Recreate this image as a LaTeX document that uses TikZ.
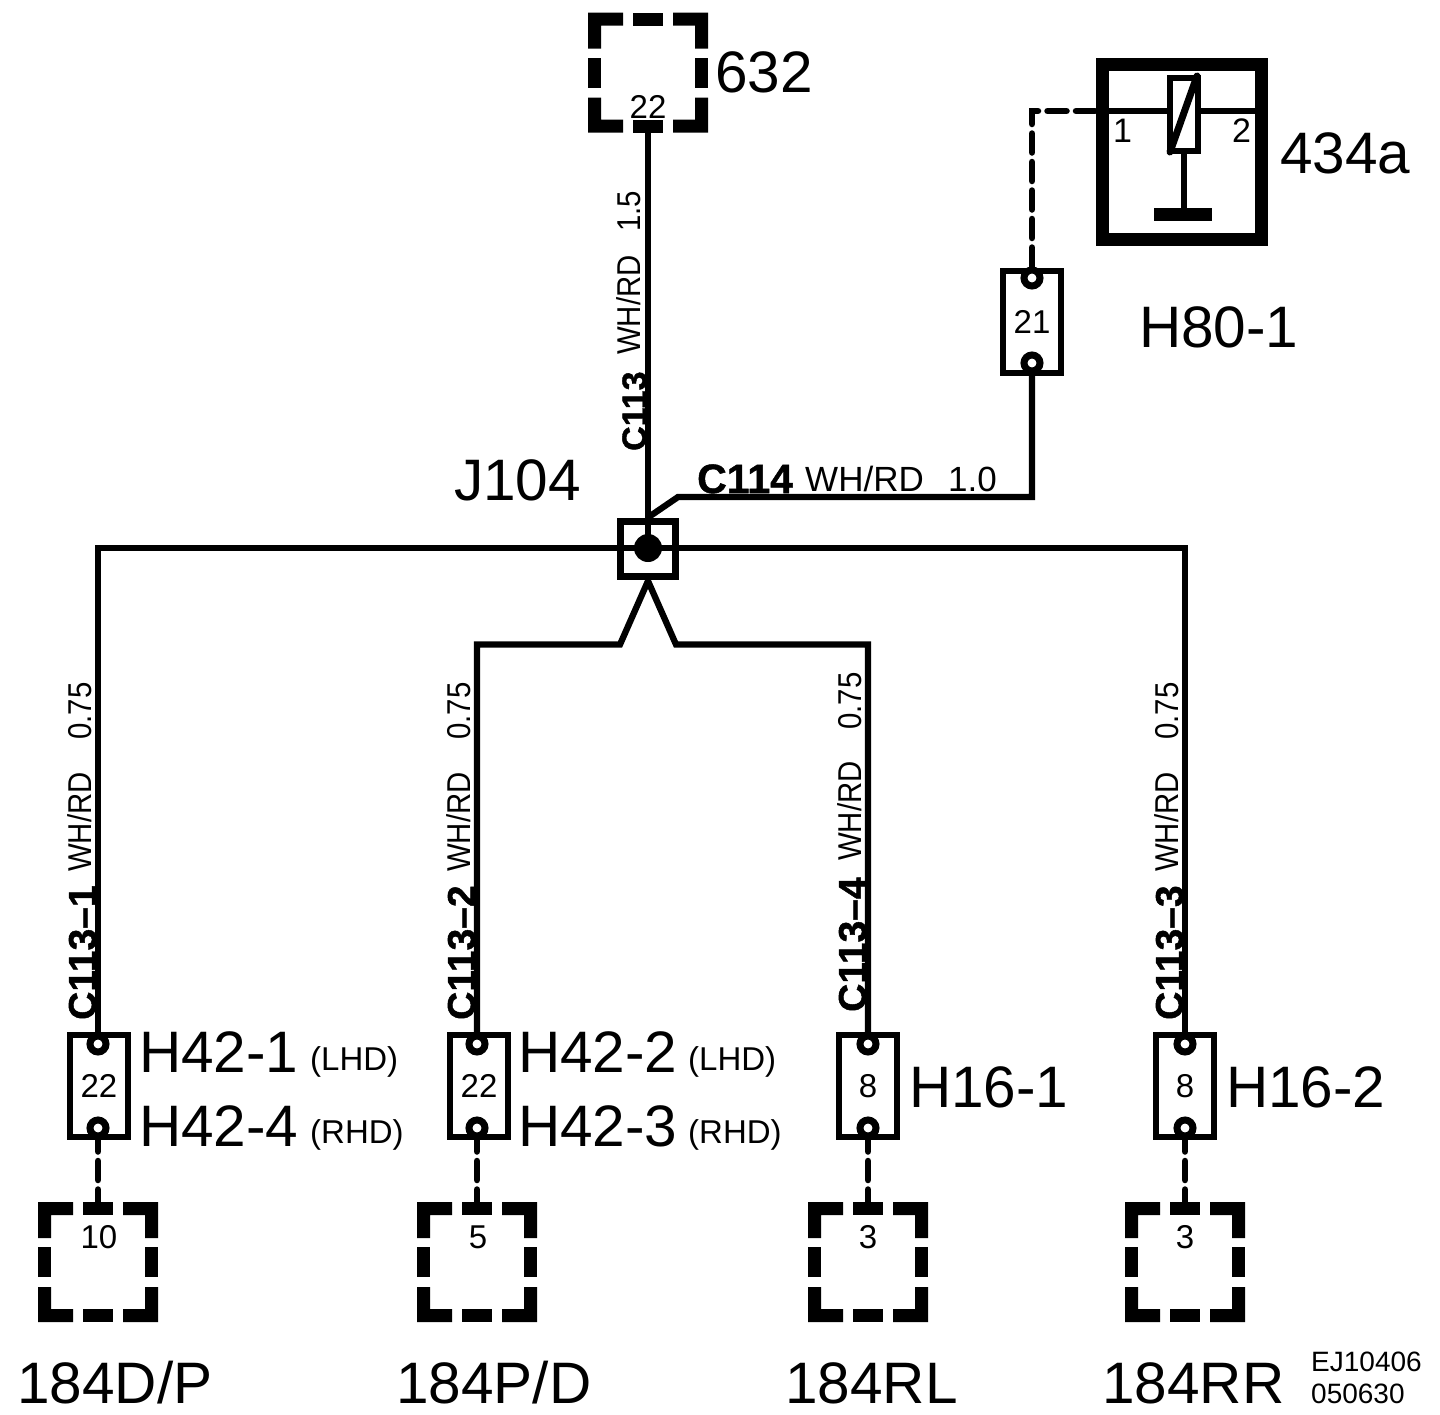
\documentclass[tikz,border=0pt]{standalone}
\usepackage{fontspec}
\setmainfont{Liberation Sans}
\newfontfamily\narrowf[FakeStretch=0.89]{Liberation Sans}
\newfontfamily\heavyf[FakeBold=1.2]{Liberation Sans Bold}
\usetikzlibrary{calc}
\newcommand{\fsz}[1]{\fontsize{#1}{#1}\selectfont}
\newcommand{\dsq}[1]{%
  \begin{scope}[shift={(#1.center)}]
    \fill (-60,-60) -- (-25,-60) -- (-25,-47) -- (-47,-47) -- (-47,-24) -- (-60,-24) -- cycle;
    \fill (60,-60) -- (25,-60) -- (25,-47) -- (47,-47) -- (47,-24) -- (60,-24) -- cycle;
    \fill (-60,60) -- (-25,60) -- (-25,47) -- (-47,47) -- (-47,25) -- (-60,25) -- cycle;
    \fill (60,60) -- (25,60) -- (25,47) -- (47,47) -- (47,25) -- (60,25) -- cycle;
    \fill (-15,-60) rectangle (15,-47);
    \fill (-15,60) rectangle (15,47);
    \fill (-60,-15) rectangle (-47,15);
    \fill (60,-15) rectangle (47,15);
  \end{scope}}
% key, wire x, y of bold, y of colour, y of size, bold text, size
\newcommand{\wlab}[7]{%
  \node[boldlab,rotate=90] (#1b) at (#2-2,#3) {#6};
  \node[reglab,rotate=90] (#1c) at (#2-6.5,#4) {WH/RD};
  \node[reglab,rotate=90] (#1s) at (#2-6.5,#5) {#7};}
\tikzset{
  x=1pt,y=-1pt,
  wire/.style={line width=6.3pt,line join=miter},
  dwire/.style={line width=6.5pt,line cap=round,dash pattern=on 19pt off 9.5pt,dash phase=7pt},
  conbox/.style={draw,line width=6.6pt,rectangle,minimum width=58pt,minimum height=102pt,inner sep=0pt,font=\fsz{33}},
  pin/.style={draw,line width=7pt,circle,minimum size=16pt,inner sep=0pt,fill=white},
  dbox/.style={rectangle,minimum size=120pt,inner sep=0pt},
  txt/.style={anchor=base west,inner sep=0pt},
  big/.style={txt,font=\fsz{58.5}},
  small/.style={txt,font=\fsz{33}},
  boldlab/.style={txt,font=\heavyf\fsz{39}},
  reglab/.style={txt,font=\narrowf\fsz{33}},
}
\begin{document}
\begin{tikzpicture}
\useasboundingbox (0,0) rectangle (1440,1414);
% dashed boxes
\node[dbox] (top) at (648,72.5) {};
\node[dbox] (d1) at (98,1262) {};
\node[dbox] (d2) at (477,1262) {};
\node[dbox] (d3) at (868,1262) {};
\node[dbox] (d4) at (1185,1262) {};
\dsq{top}\dsq{d1}\dsq{d2}\dsq{d3}\dsq{d4}
% connector bodies
\node[conbox] (c21) at (1032,322) {21};
\node[conbox] (c1) at (99,1086) {22};
\node[conbox] (c2) at (479,1086) {22};
\node[conbox] (c3) at (868,1086) {8};
\node[conbox] (c4) at (1185,1086) {8};
% pins
\node[pin] (p21a) at (1032,278) {};
\node[pin] (p21b) at (1032,363) {};
\node[pin] (p1a) at (98,1044) {};
\node[pin] (p1b) at (98,1128) {};
\node[pin] (p2a) at (477,1044) {};
\node[pin] (p2b) at (477,1128) {};
\node[pin] (p3a) at (868,1044) {};
\node[pin] (p3b) at (868,1128) {};
\node[pin] (p4a) at (1185,1044) {};
\node[pin] (p4b) at (1185,1128) {};
% junction
\node[draw,line width=7pt,rectangle,minimum size=55pt,inner sep=0pt] (junc) at (648,548.5) {};
\node[fill,circle,minimum size=28pt,inner sep=0pt] (dot) at (648,548) {};
\coordinate (apex) at (648,581);
\coordinate (vl) at (620,644.5);
\coordinate (vr) at (676,644.5);
\coordinate (kink) at (678,497);
% wires
\draw[wire] (top.south) -- (dot.center);
\draw[wire] (p1a.north) |- (dot.center);
\draw[wire] (p4a.north) |- (dot.center);
\draw[wire] (junc.north) -- (kink) -| (p21b.south);
\draw[wire] (p2a.north) |- (vl) -- (apex) -- (vr) -| (p3a.north);
% relay 434a
\node[draw,line width=13pt,rectangle,minimum width=159pt,minimum height=175pt,inner sep=0pt] (relay) at (1182,152) {};
\coordinate (relayin) at (1096,111);
\coordinate (relayout) at (1261,111);
\draw[wire] (relayin) -- (relayout);
\node[draw,line width=6pt,rectangle,minimum width=28pt,minimum height=73pt,inner sep=0pt,fill=white] (coil) at (1184,114.5) {};
\draw[line width=7pt,line cap=round] (1197,76) -- (1170,152);
\node[fill,rectangle,minimum width=58pt,minimum height=13pt,inner sep=0pt] (base) at (1182.5,214.5) {};
\draw[wire] (coil.south) -- (coil.south |- base.north);
\node[txt,font=\fsz{34}] (n1) at (1113,142) {1};
\node[txt,font=\fsz{34}] (n2) at (1232,142) {2};
% dashed wires
\draw[dwire,dash phase=0pt] (p21a.north) |- (relayin);
\draw[dwire] (p1b.south) -- (d1.north);
\draw[dwire] (p2b.south) -- (d2.north);
\draw[dwire] (p3b.south) -- (d3.north);
\draw[dwire] (p4b.south) -- (d4.north);
% numbers in dashed boxes
\node[font=\fsz{33},anchor=base] (t22) at (648,118) {22};
\node[font=\fsz{33},anchor=base] (t10) at (99,1248) {10};
\node[font=\fsz{33},anchor=base] (t5) at (478,1248) {5};
\node[font=\fsz{33},anchor=base] (t3a) at (868,1248) {3};
\node[font=\fsz{33},anchor=base] (t3b) at (1185,1248) {3};
% big labels
\node[big] (l632) at (715,92) {632};
\node[big] (l434) at (1280,173) {434a};
\node[big] (l80) at (1139,347) {H80-1};
\node[big] (l104) at (454,500) {J104};
\node[big] (l421) at (139,1072) {H42-1};
\node[big] (l424) at (139,1146) {H42-4};
\node[big] (l422) at (518,1072) {H42-2};
\node[big] (l423) at (518,1146) {H42-3};
\node[big] (l161) at (909,1107) {H16-1};
\node[big] (l162) at (1226,1107) {H16-2};
\node[big] (ldp) at (17,1403) {184D/P};
\node[big] (lpd) at (396,1403) {184P/D};
\node[big] (lrl) at (785,1403) {184RL};
\node[big] (lrr) at (1102,1403) {184RR};
\node[small] (s1) at (310,1070) {(LHD)};
\node[small] (s2) at (310,1143) {(RHD)};
\node[small] (s3) at (688,1070) {(LHD)};
\node[small] (s4) at (688,1143) {(RHD)};
\node[txt,font=\fsz{28}] (ej) at (1311,1371) {EJ10406};
\node[txt,font=\fsz{28}] (date) at (1311,1403) {050630};
% wire labels
\node[boldlab,font=\heavyf\fsz{34},rotate=90] (mb) at (646,451) {C113};
\node[reglab,rotate=90] (mc) at (640,355) {WH/RD};
\node[reglab,rotate=90] (ms) at (640,232) {1.5};
\wlab{a}{98}{1020}{872}{740}{C113–1}{0.75}
\wlab{e}{477}{1020}{872}{740}{C113–2}{0.75}
\wlab{f}{868}{1012}{861}{730}{C113–4}{0.75}
\wlab{g}{1185}{1020}{872}{740}{C113–3}{0.75}
\node[txt,font=\heavyf\fsz{41}] (hb) at (697,493) {C114};
\node[txt,font=\fsz{35}] (hc) at (805,491) {WH/RD};
\node[txt,font=\fsz{35}] (hs) at (948,491) {1.0};
\end{tikzpicture}
\end{document}
